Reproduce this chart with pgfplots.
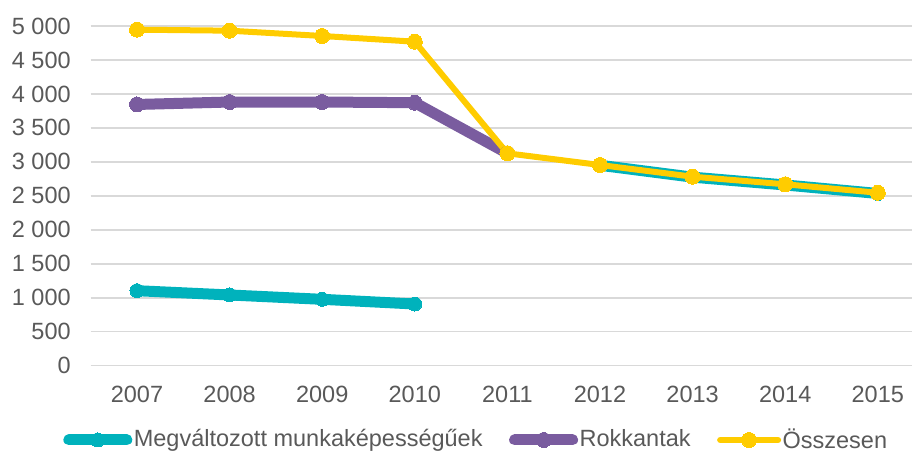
\documentclass[border=0pt]{standalone}
\usepackage{pgfplots}
\pgfplotsset{compat=1.18}
\usepackage{fontspec}
\setmainfont{Liberation Sans}
\definecolor{cteal}{HTML}{00B2BC}
\definecolor{cpurple}{HTML}{7A5C9F}
\definecolor{cyellow}{HTML}{FFCC00}
\definecolor{cgrid}{HTML}{D9D9D9}
\definecolor{ctext}{HTML}{595959}
\begin{document}
\begin{tikzpicture}
\fontsize{23.5bp}{28bp}\selectfont
\path[use as bounding box] (-90.7bp,-89.3bp) rectangle (821.3bp,365.7bp);
\begin{axis}[
  scale only axis,
  width=833.4bp, height=339.7bp,
  at={(0,0)}, anchor=south west,
  xmin=-0.5, xmax=8.5, ymin=0, ymax=5000,
  xtick={0,...,8},
  xticklabels={2007,2008,2009,2010,2011,2012,2013,2014,2015},
  ytick={0,500,...,5000},
  axis line style={draw=none},
  major tick length=0pt,
  ymajorgrids,
  grid style={cgrid, line width=1.5bp},
  tick label style={font=\fontsize{23.5bp}{28bp}\selectfont, text=ctext},
  /pgf/number format/1000 sep={\ },
  /pgf/number format/assume math mode=true,
  yticklabel style={xshift=-12bp},
  xticklabel style={yshift=-12bp},
  unbounded coords=jump,
  legend columns=3,
  legend style={at={(0.4623,-0.2187)}, anchor=center, draw=none, fill=none,
    font=\fontsize{23.5bp}{28bp}\selectfont, text=ctext,
    /tikz/every even column/.append style={column sep=25bp},
    inner sep=0pt, nodes={inner sep=1.5bp}},
  legend image code/.code={\draw[mark repeat=2,mark phase=2,#1] plot coordinates {(0bp,0bp) (29bp,0bp) (58bp,0bp)};},
]
\addplot[cteal, line width=11bp, line join=round, line cap=round, mark=*, mark size=7bp, mark options={line width=0pt, fill=cteal}] coordinates {
 (0,1104) (1,1041) (2,977) (3,908) (4,nan) (5,2950) (6,2775) (7,2660) (8,2535)};
\addlegendentry{Megváltozott munkaképességűek}
\addplot[cpurple, line width=11bp, line join=round, line cap=round, mark=*, mark size=7.5bp, mark options={line width=0pt, fill=cpurple}] coordinates {
 (0,3845) (1,3881) (2,3881) (3,3871) (4,3126)};
\addlegendentry{Rokkantak}
\addplot[cyellow, line width=6bp, line join=round, line cap=round, mark=*, mark size=7.5bp, mark options={line width=0pt, fill=cyellow}] coordinates {
 (0,4946) (1,4931) (2,4853) (3,4769) (4,3126) (5,2954) (6,2782) (7,2670) (8,2546)};
\addlegendentry{Összesen}
\end{axis}
\end{tikzpicture}
\end{document}
